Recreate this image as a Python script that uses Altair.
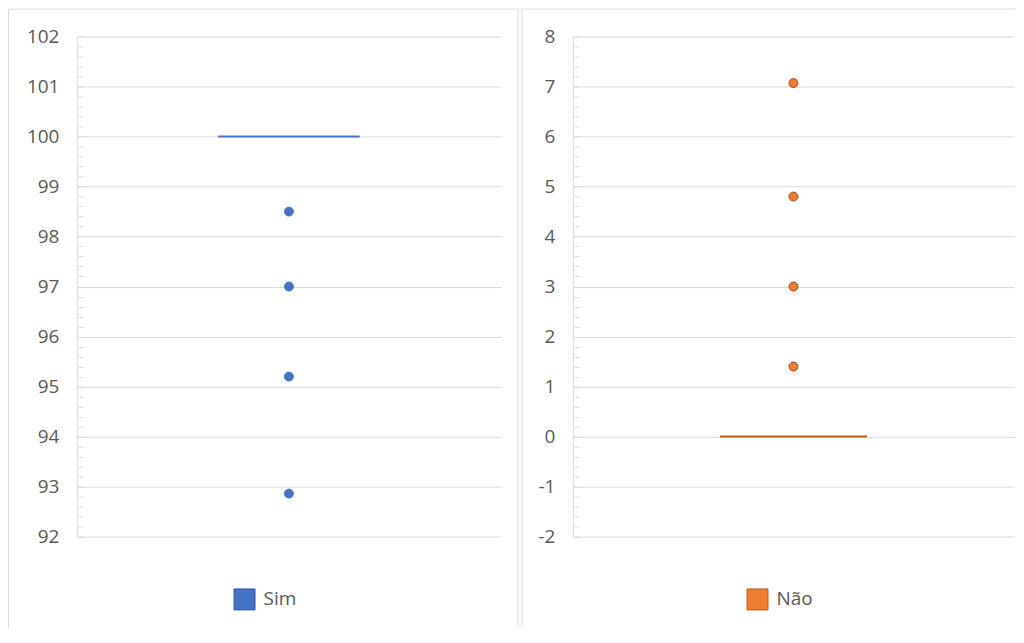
import altair as alt
import pandas as pd

FONT = "Open Sans"
GRID = "#D9D9D9"
TEXT = "#595959"

# ---- data ----
series = ["Sim", "Não"]
sim_values = [98.5, 97.0, 95.2, 92.86]
nao_values = [7.07, 4.8, 3.0, 1.4]
medians = [100, 0]
sim_ticks = [92, 93, 94, 95, 96, 97, 98, 99, 100, 101, 102]
nao_ticks = [-2, -1, 0, 1, 2, 3, 4, 5, 6, 7, 8]
fill_colors = ["#4472C4", "#ED7D31"]
line_colors = ["#4472C4", "#C55A11"]
point_strokes = ["#4472C4", "#9E4A12"]
legend_strokes = ["#2F5597", "#AE5A21"]
# category slot: box spans 1..2, points centred at 1.5, x domain 0..3
slot_start, slot_mid, slot_end = 1, 1.5, 2


def panel(name, values, median, ticks, fill, line, pstroke, lstroke,
          width, height, frame, right_side, legend_xy):
    pts = pd.DataFrame({"serie": [name] * len(values), "valor": values,
                        "pos": [slot_mid] * len(values)})
    med = pd.DataFrame({"serie": [name], "valor": [median],
                        "ini": [slot_start], "fim": [slot_end]})
    lo, hi = ticks[0], ticks[-1]
    minor = [round(lo + i * 0.2, 1) for i in range(int((hi - lo) * 5) + 1)]
    yscale = alt.Scale(domain=[lo, hi], nice=False, zero=False)
    xscale = alt.Scale(domain=[0, 3], nice=False, zero=False)

    major_axis = alt.Axis(values=ticks, orient="left", title=None, grid=True,
                          gridColor=GRID, gridWidth=1, domain=True,
                          domainColor=GRID, ticks=False, tickSize=0,
                          labelPadding=18, labelFontSize=19, labelColor=TEXT,
                          labelFont=FONT, labelExpr="'' + datum.value")
    minor_axis = alt.Axis(values=minor, orient="left", title=None, grid=False,
                          labels=False, domain=False, ticks=True, tickSize=5,
                          offset=-6, tickColor=GRID, tickWidth=1)

    points = alt.Chart(pts).mark_circle(
        size=80, opacity=1, stroke=pstroke, strokeWidth=1
    ).encode(
        x=alt.X("pos:Q", scale=xscale, axis=None),
        y=alt.Y("valor:Q", scale=yscale, axis=major_axis),
        color=alt.Color(
            "serie:N",
            scale=alt.Scale(domain=[name], range=[fill]),
            legend=alt.Legend(orient="none", legendX=legend_xy[0],
                              legendY=legend_xy[1], title=None,
                              symbolType="square", symbolSize=441,
                              symbolStrokeColor=lstroke, symbolStrokeWidth=1,
                              symbolOpacity=1,
                              labelFontSize=19, labelColor=TEXT,
                              labelFont=FONT, labelOffset=8),
        ),
    )

    median_rule = alt.Chart(med).mark_rule(color=line, strokeWidth=2).encode(
        x=alt.X("ini:Q", scale=xscale, axis=None),
        x2="fim:Q",
        y=alt.Y("valor:Q", scale=yscale, axis=minor_axis),
    )

    fl, ft, fr, fb = frame
    frame_layers = [
        alt.Chart().mark_rule(color=GRID, strokeWidth=1).encode(
            x=alt.value(fl), y=alt.value(ft), y2=alt.value(fb)),
        alt.Chart().mark_rule(color=GRID, strokeWidth=1).encode(
            x=alt.value(fl), x2=alt.value(fr), y=alt.value(ft)),
    ]
    if right_side:
        frame_layers.append(
            alt.Chart().mark_rule(color=GRID, strokeWidth=1).encode(
                x=alt.value(fr), y=alt.value(ft), y2=alt.value(fb)))

    return alt.layer(median_rule, points, *frame_layers).resolve_axis(
        y="independent").properties(width=width, height=height)


left = panel(series[0], sim_values, medians[0], sim_ticks, fill_colors[0],
             line_colors[0], point_strokes[0], legend_strokes[0],
             425, 501, (-68.5, -27.5, 442, 592), True, (157, 553))
right = panel(series[1], nao_values, medians[1], nao_ticks, fill_colors[1],
              line_colors[1], point_strokes[1], legend_strokes[1],
              442, 501, (-51, -27.5, 443, 592), False, (174, 553))

chart = alt.hconcat(left, right, spacing=2).resolve_scale(
    color="independent", y="independent", x="independent"
).resolve_legend(color="independent").properties(
    padding=0, background="white"
).configure(font=FONT).configure_view(stroke="transparent", strokeWidth=0)

chart.save("out.html", embed_options={"renderer": "svg", "actions": False})
